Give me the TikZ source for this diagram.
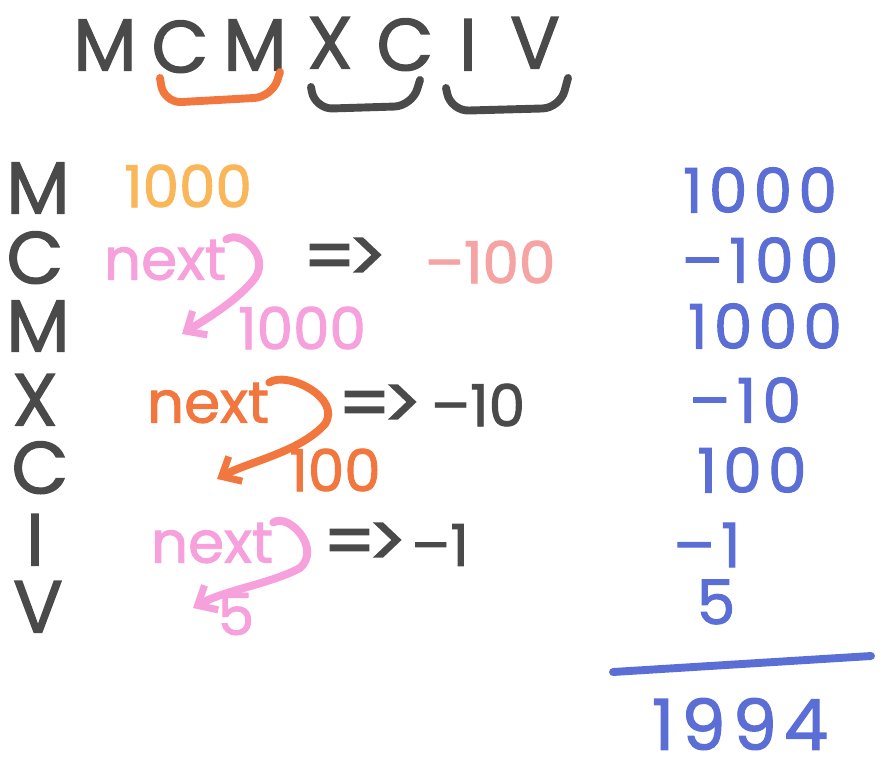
\documentclass[tikz,border=0pt]{standalone}
\usepackage{fontspec}
\setmainfont{Poppins}[FakeBold=1.6,BoldFeatures={FakeBold=1.6}]
\newfontfamily\penfont[FakeBold=1.6]{Poppins}
\newfontfamily\widefont[LetterSpace=10,FakeBold=1.6]{Poppins}
\usetikzlibrary{arrows.meta}
\definecolor{ink}{HTML}{4A4A4A}
\definecolor{tangerine}{HTML}{F2773E}
\definecolor{bubble}{HTML}{F6A0DC}
\definecolor{salmon}{HTML}{F5A3A3}
\definecolor{honey}{HTML}{F9B75A}
\definecolor{penblue}{HTML}{5B6ED6}
\begin{document}
\begin{tikzpicture}[x=0.02cm,y=-0.02cm,
    % letters of the numeral
    roman/.style={inner sep=0pt,text=ink,text height=29pt,text depth=0pt,
      font=\penfont\fontsize{42}{42}\selectfont},
    % the middle column
    scribble/.style={inner sep=0pt,font=\penfont\fontsize{33}{33}\selectfont},
    imply/.style={inner sep=0pt,text=ink,font=\penfont\fontsize{42}{42}\selectfont},
    % the sum on the right
    tally/.style={inner sep=0pt,text=penblue,font=\widefont\fontsize{35}{35}\selectfont},
    pen/.style={line width=4.5pt,line cap=round,line join=round},
    hook/.style={pen,-{Straight Barb[length=9pt,width=16pt,line width=4pt]}}]
    \useasboundingbox (0,0) rectangle (884,773);
    % top row
    \node(tM)[roman] at (105,45){M};
    \node(tC)[roman] at (180,47){C};
    \node(tMb)[roman] at (255,45){M};
    \node(tX)[roman] at (330,43){X};
    \node(tCb)[roman] at (405,45){C};
    \node(tI)[roman] at (468,45){I};
    \node(tV)[roman] at (535,43){V};
    \draw[pen,tangerine,rounded corners=10pt] (160,78) -- (164,103) -- (272,97) -- (280,72);
    \draw[pen,ink,rounded corners=10pt] (311,87) -- (315,109) -- (412,106) -- (420,80);
    \draw[pen,ink,rounded corners=10pt] (446,88) -- (451,111) -- (560,108) -- (568,78);
    % left column
    \node(lM)[roman] at (38,188){M};
    \node(lC)[roman] at (35,258){C};
    \node(lMb)[roman] at (38,326){M};
    \node(lX)[roman] at (35,400){X};
    \node(lCb)[roman] at (40,468){C};
    \node(lI)[roman] at (35,540){I};
    \node(lV)[roman] at (38,607){V};
    % middle column
    \node(vM)[scribble,text=honey] at (188,186){1000};
    \node(nxA)[scribble,text=bubble] at (165,260){next};
    \node(imA)[imply] at (345,260){=\kern-0.12em>};
    \node(negA)[scribble,text=salmon] at (490,262){–100};
    \node(vMb)[scribble,text=bubble] at (302,328){1000};
    \node(nxB)[scribble,text=tangerine] at (208,403){next};
    \node(imB)[imply] at (380,407){=\kern-0.12em>};
    \node(negB)[scribble,text=ink] at (478,405){–10};
    \node(vC)[scribble,text=tangerine] at (335,470){100};
    \node(nxC)[scribble,text=bubble] at (212,543){next};
    \node(imC)[imply] at (365,545){=\kern-0.12em>};
    \node(negC)[scribble,text=ink] at (440,545){–1};
    \node(vV)[scribble,text=bubble] at (236,614){5};
    \coordinate(tipA) at (182,334);
    \coordinate(tipB) at (217,479);
    \coordinate(tipC) at (193,608);
    \draw[hook,bubble] (nxA.north east) .. controls +(15,-10) and (270,256) .. (255,278) .. controls (238,300) and (208,318) .. (tipA);
    \draw[hook,tangerine] (nxB.north east) .. controls +(18,-12) and (342,398) .. (325,424) .. controls (300,452) and (248,462) .. (tipB);
    \draw[hook,bubble] (nxC.north east) .. controls +(15,-10) and (322,548) .. (300,568) .. controls (270,584) and (225,590) .. (tipC);
    % right column
    \node(sA)[tally] at (760,190){1000};
    \node(sB)[tally] at (760,260){–100};
    \node(sC)[tally] at (765,326){1000};
    \node(sD)[tally] at (745,400){–10};
    \node(sE)[tally] at (752,470){100};
    \node(sF)[tally] at (707,545){–1};
    \node(sG)[tally] at (716,602){5};
    \coordinate(barL) at (613,672);
    \coordinate(barR) at (871,656);
    \draw[pen,penblue] (barL) -- (barR);
    \node(total)[tally,font=\widefont\fontsize{40}{40}\selectfont] at (740,724){1994};
  \end{tikzpicture}
\end{document}
